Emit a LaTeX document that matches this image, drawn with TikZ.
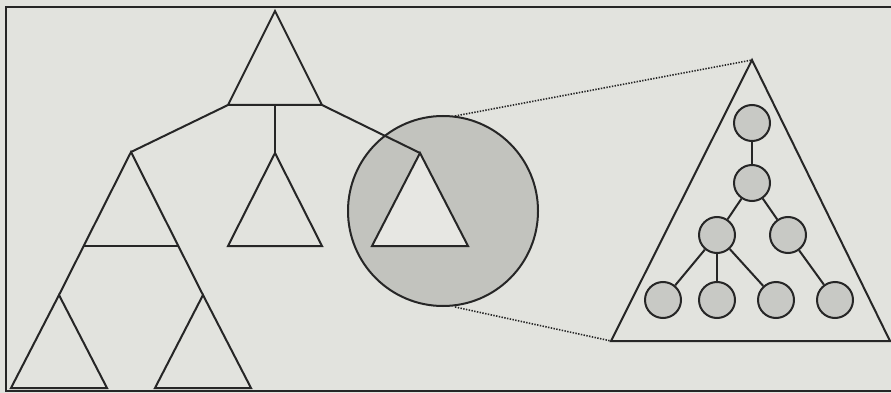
\documentclass[tikz,border=0pt]{standalone}
\definecolor{paper}{RGB}{226,227,222}
\definecolor{lensgray}{RGB}{194,195,190}
\definecolor{nodegray}{RGB}{200,201,197}
\definecolor{innerpaper}{RGB}{231,231,227}
\definecolor{ink}{RGB}{38,38,38}
\tikzset{
  tri/.style={draw=ink, line width=2pt, line join=miter},
  branch/.style={draw=ink, line width=2pt},
  tnode/.style={circle, draw=ink, line width=2pt, fill=nodegray, minimum size=36pt, inner sep=0pt},
  zoomline/.style={draw=ink, line width=1.6pt, dash pattern=on 1.4pt off 1.4pt}
}
\begin{document}
\begin{tikzpicture}[x=1pt,y=-1pt]
        \useasboundingbox (0,0) rectangle (891,393);
        \fill[paper] (0,0) rectangle (891,393);
        \draw[ink, line width=2pt] (891,7)--(6,7)--(6,391)--(891,391);
        \coordinate (rootA) at (275,11);
        \coordinate (rootL) at (228,105);
        \coordinate (rootM) at (275,105);
        \coordinate (rootR) at (322,105);
        \coordinate (leftA) at (131,152);
        \coordinate (midA) at (275,153);
        \coordinate (focusA) at (420,153);
        \coordinate (llA) at (59,295);
        \coordinate (lrA) at (203,295);
        \coordinate (lens) at (443,211);
        \coordinate (lensT) at (455,116);
        \coordinate (lensB) at (455,307);
        \coordinate (bigA) at (752,60);
        \coordinate (bigL) at (611,341);
        \coordinate (bigR) at (890,341);
        \fill[lensgray] (lens) circle (95);
        \fill[innerpaper] (focusA)--(372,246)--(468,246)--cycle;
        \draw[ink, line width=2pt] (lens) circle (95);
        \draw[tri] (rootA)--(rootL)--(rootR)--cycle;
        \draw[tri] (midA)--(228,246)--(322,246)--cycle;
        \draw[tri] (focusA)--(372,246)--(468,246)--cycle;
        \draw[tri] (llA)--(leftA)--(lrA);
        \draw[tri] (84,246)--(178,246);
        \draw[tri] (llA)--(11,388)--(107,388)--cycle;
        \draw[tri] (lrA)--(155,388)--(251,388)--cycle;
        \draw[branch] (rootL)--(leftA);
        \draw[branch] (rootM)--(midA);
        \draw[branch] (rootR)--(focusA);
        \draw[zoomline] (lensT)--(bigA);
        \draw[zoomline] (lensB)--(bigL);
        \draw[tri] (bigA)--(bigL)--(bigR)--cycle;
        \node[tnode] (n1) at (752,123) {};
        \node[tnode] (n2) at (752,183) {};
        \node[tnode] (n3) at (717,235) {};
        \node[tnode] (n4) at (788,235) {};
        \node[tnode] (n5) at (663,300) {};
        \node[tnode] (n6) at (717,300) {};
        \node[tnode] (n7) at (776,300) {};
        \node[tnode] (n8) at (835,300) {};
        \draw[branch] (n1)--(n2);
        \draw[branch] (n2)--(n3);
        \draw[branch] (n2)--(n4);
        \draw[branch] (n3)--(n5);
        \draw[branch] (n3)--(n6);
        \draw[branch] (n3)--(n7);
        \draw[branch] (n4)--(n8);
    \end{tikzpicture}
\end{document}
